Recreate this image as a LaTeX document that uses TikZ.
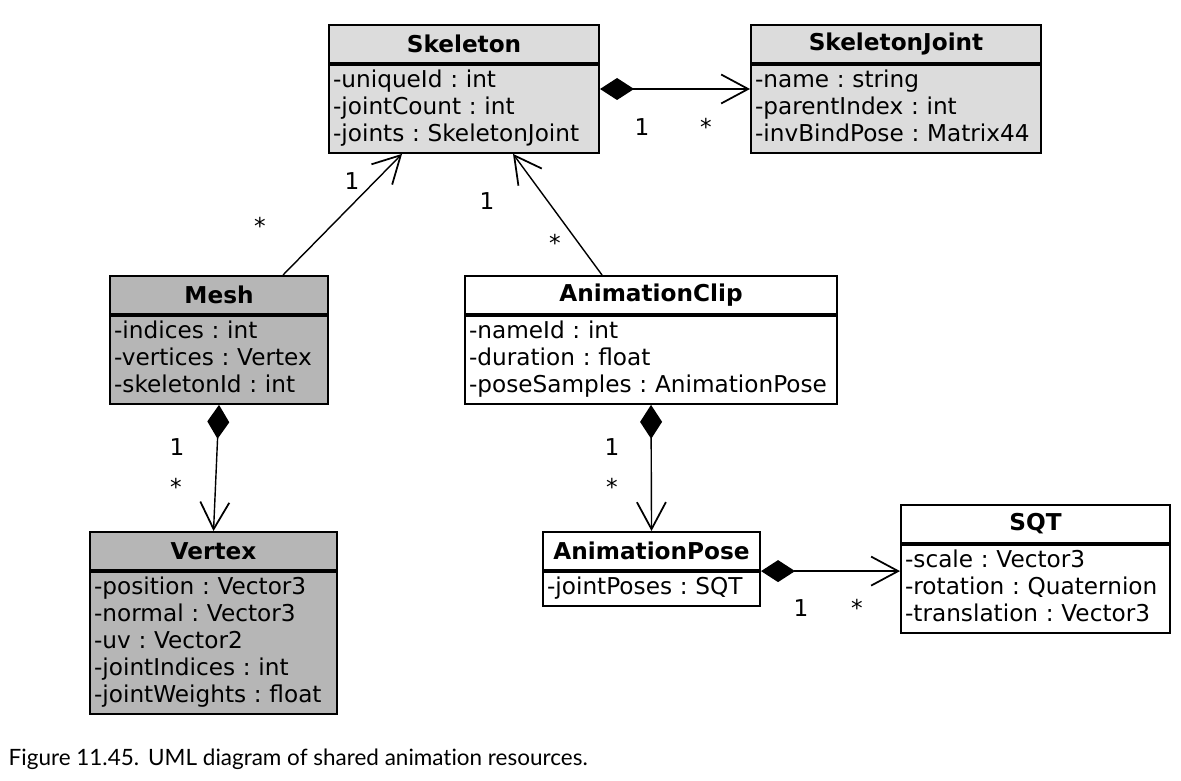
\documentclass[tikz,border=0pt]{standalone}
\usepackage{fontspec}
\setmainfont{DejaVu Sans}
\newfontfamily\capfont[Ligatures={NoCommon,NoRare,NoContextual}]{Lato}
\usetikzlibrary{positioning,arrows.meta}
\definecolor{lightcls}{RGB}{220,220,220}
\definecolor{darkcls}{RGB}{182,182,182}
\newcommand\umlfont{\fontsize{13.2pt}{15.3pt}\selectfont\frenchspacing}
\tikzset{
  cls/.style={draw,line width=1.2pt,fill=#1,anchor=north west,minimum height=0.76cm,inner sep=0pt,font=\umlfont\bfseries},
  cls/.default=white,
  attr/.style={draw,line width=1.2pt,fill=#1,align=left,inner xsep=0.08cm,inner ysep=2pt,font=\umlfont,
    execute at begin node=\strut,execute at end node=\strut},
  attr/.default=white,
  mult/.style={anchor=base,inner sep=0pt,font=\umlfont},
  opentip/.tip={Straight Barb[length=0.54cm,width=0.58cm,line width=1pt]},
  assoc/.style={-opentip},
  comp/.style={{Diamond[length=0.68cm,width=0.44cm]}-opentip}
}

\begin{document}
\begin{tikzpicture}[thick,x=0.02cm,y=-0.02cm]
        \useasboundingbox (0,0) rectangle (1181,781);
        \node[cls=lightcls,minimum width=5.4cm] (skel) at (328,24) {Skeleton};
        \node[attr=lightcls,text width=5.24cm,below=0pt of skel] (skel-attr) {-uniqueId : int\\-jointCount : int\\-joints : SkeletonJoint};
        \node[cls=lightcls,minimum width=5.8cm] (joint) at (750,24) {SkeletonJoint};
        \node[attr=lightcls,text width=5.64cm,below=0pt of joint] (joint-attr) {-name : string\\-parentIndex : int\\-invBindPose : Matrix44};
        \node[cls=darkcls,minimum width=4.36cm] (mesh) at (109,275) {Mesh};
        \node[attr=darkcls,text width=4.2cm,below=0pt of mesh] (mesh-attr) {-indices : int\\-vertices : Vertex\\-skeletonId : int};
        \node[cls,minimum width=7.44cm] (clip) at (464,275) {AnimationClip};
        \node[attr,text width=7.28cm,below=0pt of clip] (clip-attr) {-nameId : int\\-duration : float\\-poseSamples : AnimationPose};
        \node[cls=darkcls,minimum width=4.94cm] (vert) at (89,531) {Vertex};
        \node[attr=darkcls,text width=4.78cm,below=0pt of vert] (vert-attr) {-position : Vector3\\-normal : Vector3\\-uv : Vector2\\-jointIndices : int\\-jointWeights : float};
        \node[cls,minimum width=4.34cm] (pose) at (542,531) {AnimationPose};
        \node[attr,text width=4.18cm,below=0pt of pose] (pose-attr) {-jointPoses : SQT};
        \node[cls,minimum width=5.38cm] (sqt) at (900,504) {SQT};
        \node[attr,text width=5.22cm,below=0pt of sqt] (sqt-attr) {-scale : Vector3\\-rotation : Quaternion\\-translation : Vector3};

        \draw[comp] ([yshift=0.4cm]skel-attr.east) -- ([yshift=0.4cm]joint-attr.west);
        \draw[assoc] ([xshift=1.28cm]mesh.north) -- ([xshift=-1.24cm]skel-attr.south);
        \draw[assoc] ([xshift=-0.98cm]clip.north) -- ([xshift=0.98cm]skel-attr.south);
        \draw[comp] (mesh-attr.south) -- (vert.north);
        \draw[comp] (clip-attr.south) -- (pose.north);
        \draw[comp] (pose.south east) -- (pose.south east -| sqt-attr.west);

        \node[mult] (skj-one) at (642,135) {1};
        \node[mult] (skj-many) at (706,135) {*};
        \node[mult] (msk-one) at (352,189) {1};
        \node[mult] (msk-many) at (260,234) {*};
        \node[mult] (csk-one) at (487,209) {1};
        \node[mult] (csk-many) at (555,251) {*};
        \node[mult] (mv-one) at (177,455) {1};
        \node[mult] (mv-many) at (176,495) {*};
        \node[mult] (cp-one) at (612,455) {1};
        \node[mult] (cp-many) at (612,495) {*};
        \node[mult] (ps-one) at (801,616) {1};
        \node[mult] (ps-many) at (857,616) {*};

        \node[anchor=base west,inner sep=0pt,font=\capfont\fontsize{12.8pt}{15pt}\selectfont] (cap) at (8,765) {Figure 11.45.\hspace{0.4em}UML diagram of shared animation resources.};
    \end{tikzpicture}
\end{document}
